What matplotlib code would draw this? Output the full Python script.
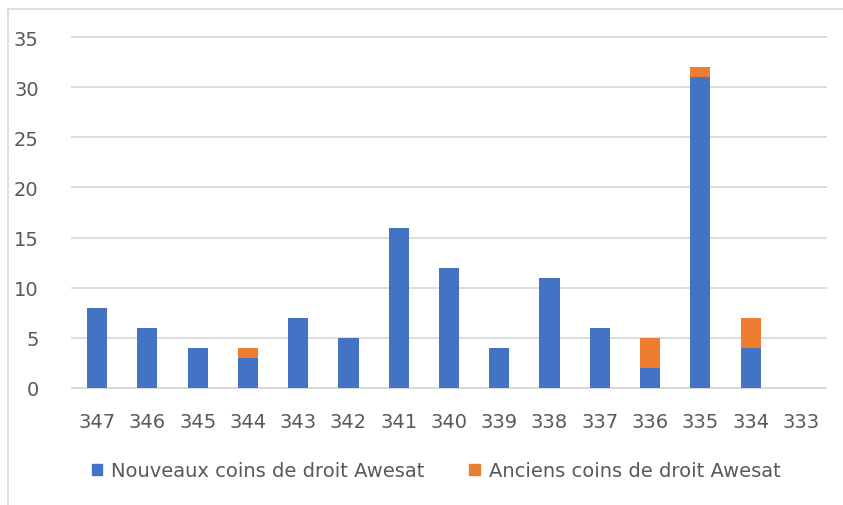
import matplotlib
matplotlib.use("Agg")
import matplotlib.pyplot as plt
from matplotlib.lines import Line2D
from matplotlib.patches import Patch
import numpy as np

# Bloc numbers, newest first
blocs = ["347", "346", "345", "344", "343", "342", "341", "340",
         "339", "338", "337", "336", "335", "334", "333"]
nouveaux = [8, 6, 4, 3, 7, 5, 16, 12, 4, 11, 6, 2, 31, 4, 0]
anciens = [0, 0, 0, 1, 0, 0, 0, 0, 0, 0, 0, 3, 1, 3, 0]

BLUE = "#4472c4"
ORANGE = "#ed7d31"
GRID = "#d9d9d9"
TEXT = "#595959"

W, H = 843, 506
fig = plt.figure(figsize=(W / 100, H / 100), dpi=100)
ax = fig.add_axes([72 / W, (H - 389) / H, (826 - 72) / W, (389 - 38) / H])

x = np.arange(len(blocs))
ax.bar(x, nouveaux, width=0.4, color=BLUE, zorder=3)
ax.bar(x, anciens, width=0.4, bottom=nouveaux, color=ORANGE, zorder=3)

ax.set_xlim(-0.5, len(blocs) - 0.5)
ax.set_ylim(0, 35)
ax.set_yticks(range(0, 36, 5))
ax.set_xticks(x)
ax.set_xticklabels(blocs)
ax.yaxis.grid(True, color=GRID, linewidth=1.3, zorder=0)
for gl in ax.get_ygridlines():
    gl.set_clip_on(False)
for side in ("top", "right", "left"):
    ax.spines[side].set_visible(False)
ax.spines["bottom"].set_color(GRID)
ax.spines["bottom"].set_linewidth(1.3)
ax.tick_params(axis="both", length=0, labelsize=14, labelcolor=TEXT)
ax.tick_params(axis="x", pad=17)
ax.tick_params(axis="y", pad=24)

handles = [Patch(color=BLUE, label="Nouveaux coins de droit Awesat"),
           Patch(color=ORANGE, label="Anciens coins de droit Awesat")]
fig.legend(handles=handles, loc="center", bbox_to_anchor=(436 / W, (H - 472) / H),
           ncol=2, frameon=False, fontsize=14, labelcolor=TEXT,
           handlelength=0.55, handleheight=0.55, handletextpad=0.45,
           columnspacing=2.3)

# chart area border (top and left edges)
fig.add_artist(Line2D([7.5 / W, 1], [(H - 9.5) / H] * 2, color=GRID, linewidth=1.2))
fig.add_artist(Line2D([7.5 / W] * 2, [0, (H - 9.5) / H], color=GRID, linewidth=1.2))

fig.savefig("out.png", dpi=100, facecolor="white")
